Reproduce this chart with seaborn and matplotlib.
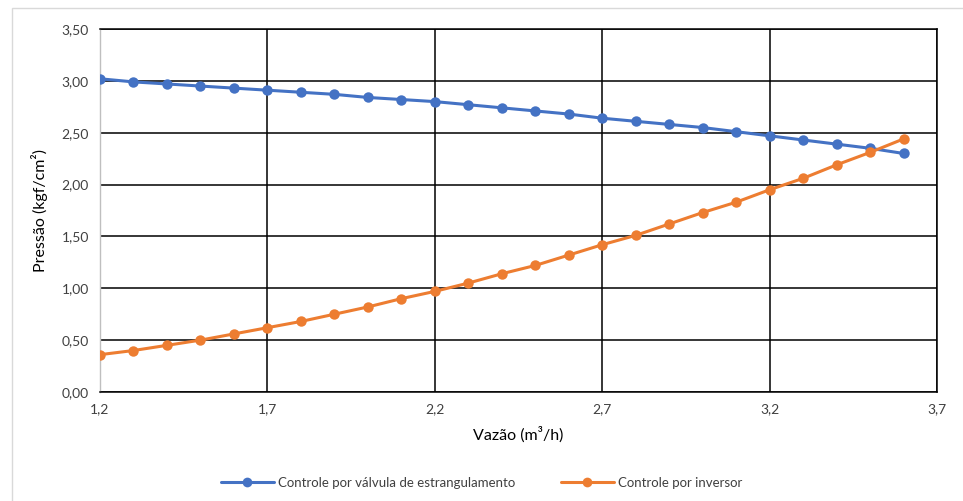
import matplotlib
matplotlib.use("Agg")
import matplotlib.pyplot as plt
import seaborn as sns
import pandas as pd
from matplotlib.ticker import FuncFormatter, MultipleLocator, FixedLocator
from matplotlib.patches import Rectangle
from matplotlib.lines import Line2D

vazao = [1.2, 1.3, 1.4, 1.5, 1.6, 1.7, 1.8, 1.9, 2.0, 2.1, 2.2, 2.3, 2.4,
         2.5, 2.6, 2.7, 2.8, 2.9, 3.0, 3.1, 3.2, 3.3, 3.4, 3.5, 3.6]
valvula = [3.02, 2.99, 2.97, 2.95, 2.93, 2.91, 2.89, 2.87, 2.84, 2.82, 2.80, 2.77, 2.74,
           2.71, 2.68, 2.64, 2.61, 2.58, 2.55, 2.51, 2.47, 2.43, 2.39, 2.35, 2.30]
inversor = [0.36, 0.40, 0.45, 0.50, 0.56, 0.62, 0.68, 0.75, 0.82, 0.90, 0.97, 1.05, 1.14,
            1.22, 1.32, 1.42, 1.51, 1.62, 1.73, 1.83, 1.95, 2.06, 2.19, 2.31, 2.44]
x_ticks = [1.2, 1.7, 2.2, 2.7, 3.2, 3.7]
series_names = ["Controle por válvula de estrangulamento", "Controle por inversor"]
colors = ["#4472C4", "#ED7D31"]

sns.set_theme(style="white")
plt.rcParams['font.family'] = ['Lato', 'DejaVu Sans']

df = pd.concat([
    pd.DataFrame({"x": vazao, "y": valvula, "serie": series_names[0]}),
    pd.DataFrame({"x": vazao, "y": inversor, "serie": series_names[1]}),
])

fig = plt.figure(figsize=(9.63, 5.01), dpi=100)
ax = fig.add_axes([100/963, 109/501, 837/963, 363/501])

sns.lineplot(data=df, x="x", y="y", hue="serie", palette=colors, marker="o",
             markersize=7.5, markeredgewidth=0, linewidth=2.2, ax=ax, legend=False,
             zorder=3)

ax.set_xlim(1.2, 3.7)
ax.set_ylim(0, 3.5)
ax.xaxis.set_major_locator(FixedLocator(x_ticks))
ax.yaxis.set_major_locator(MultipleLocator(0.5))
ax.xaxis.set_major_formatter(FuncFormatter(lambda v, p: f"{v:.1f}".replace(".", ",")))
ax.yaxis.set_major_formatter(FuncFormatter(lambda v, p: f"{v:.2f}".replace(".", ",")))
ax.grid(True, color="black", linewidth=1.1)
ax.set_axisbelow(True)
for s in ["top", "right", "bottom"]:
    ax.spines[s].set_color("black")
    ax.spines[s].set_linewidth(1.1)
ax.spines["left"].set_color("#BFBFBF")
ax.spines["left"].set_linewidth(1.0)
ax.tick_params(axis="both", length=0, labelsize=10, colors="#404040", pad=8)
ax.set_xlabel("Vazão (m³/h)", fontsize=11.5, color="black", labelpad=8)
ax.set_ylabel("Pressão (kgf/cm²)", fontsize=11.5, color="black", labelpad=10)

handles = [Line2D([0], [0], color=c, marker="o", markersize=7, markeredgewidth=0, linewidth=2.2)
           for c in colors]
fig.legend(handles, series_names, loc="center", bbox_to_anchor=(0.5, 18/501), ncol=2,
           frameon=False, fontsize=9.5, handlelength=4.0, columnspacing=3.5, handletextpad=0.3,
           labelcolor="#404040")

fig.patches.append(Rectangle((12/963, -0.01), 1.0, (501-8)/501 + 0.01, transform=fig.transFigure,
                             fill=False, edgecolor="#D9D9D9", linewidth=1.0))

fig.savefig("out.png", dpi=100, facecolor="white")
